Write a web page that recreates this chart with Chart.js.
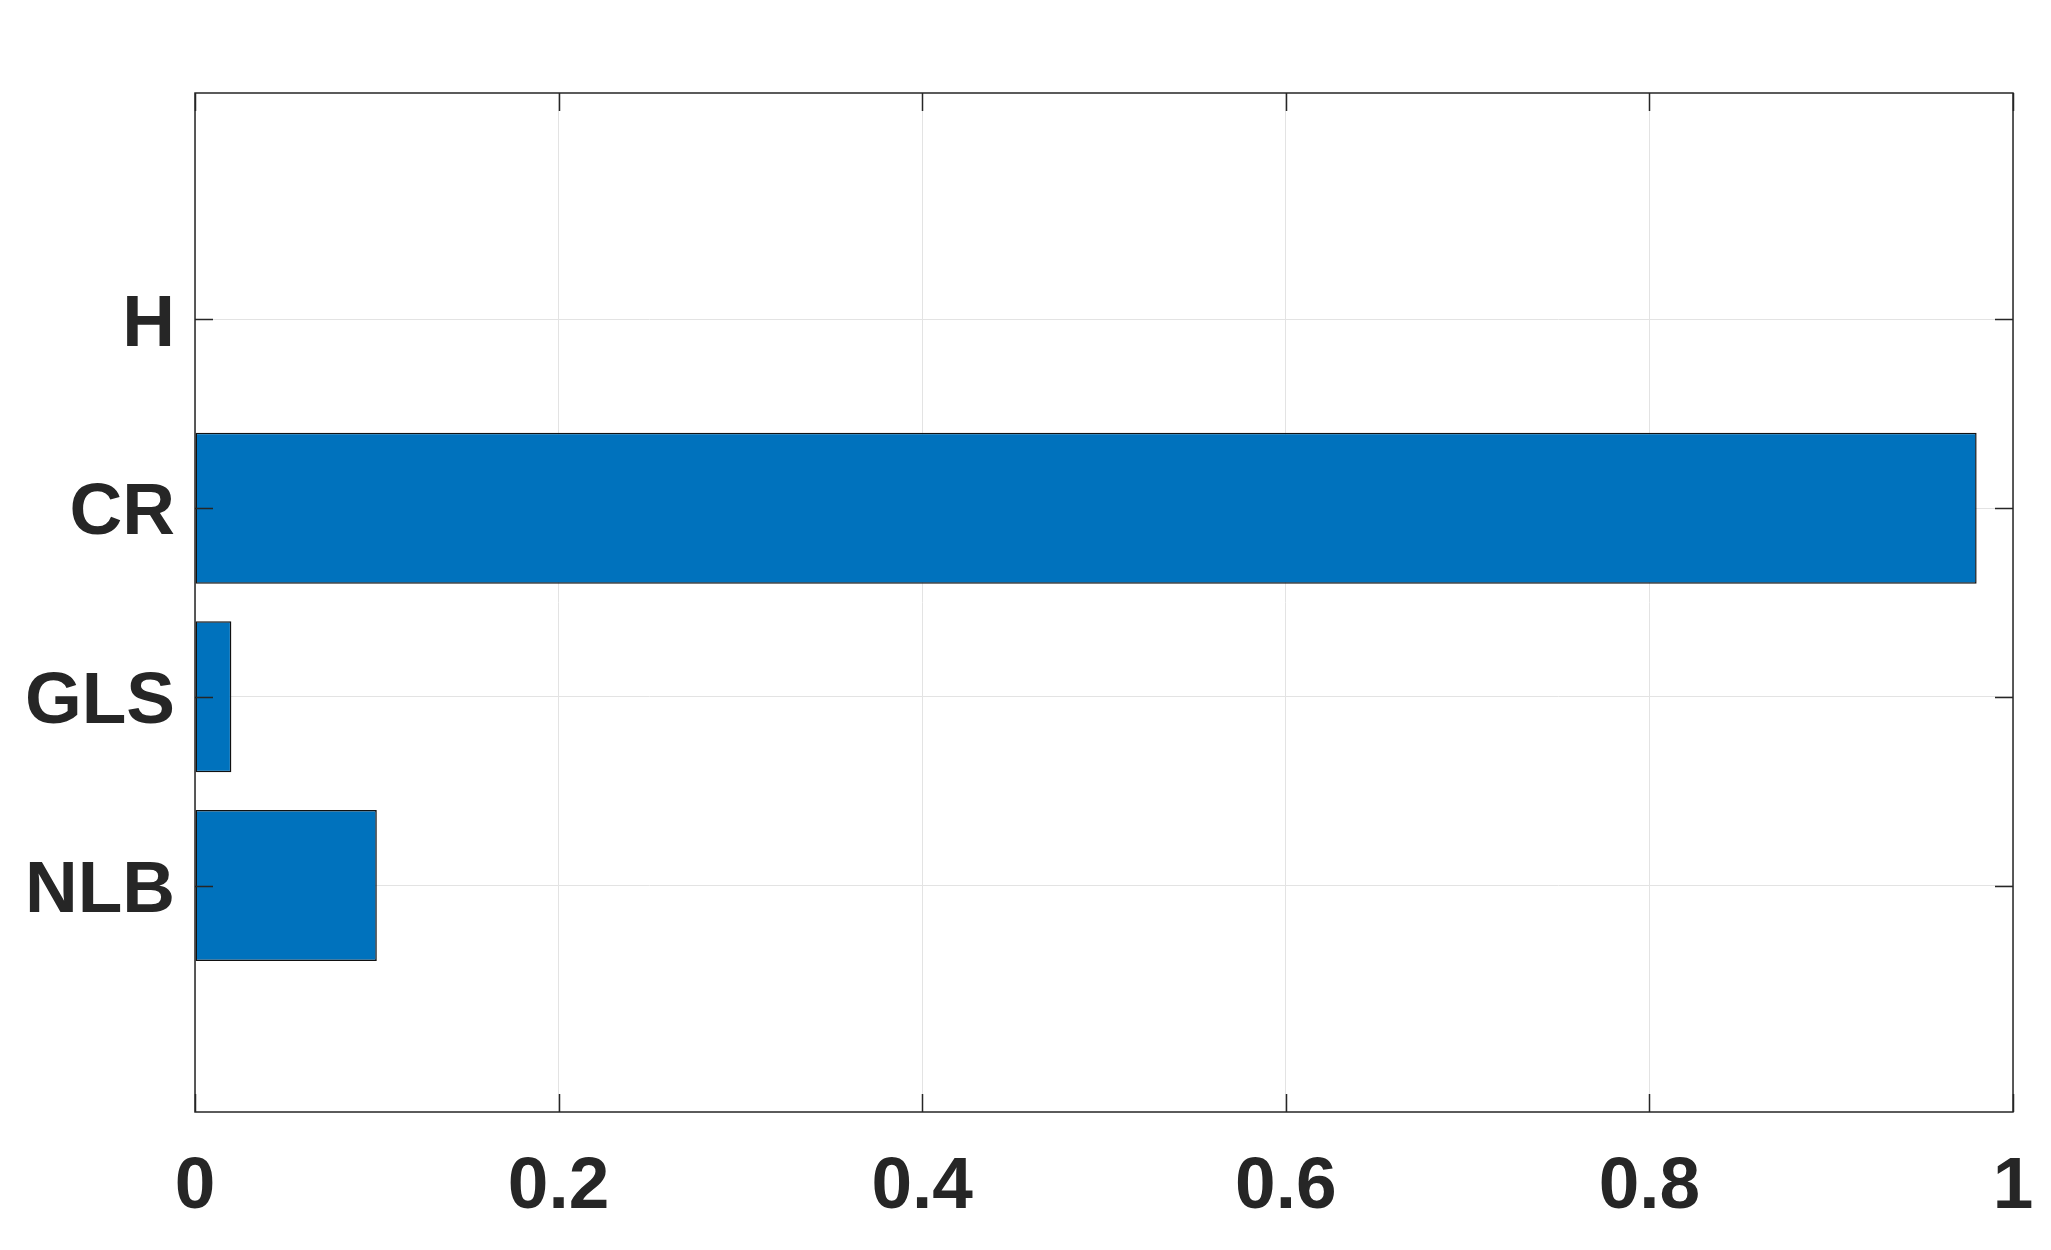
<!DOCTYPE html>
<html>
<head>
<meta charset="utf-8">
<script src="https://cdn.jsdelivr.net/npm/chart.js@4"></script>
<style>
  html, body { margin: 0; padding: 0; background: #fff; }
  #wrap { width: 2051px; height: 1250px; }
</style>
</head>
<body>
<div id="wrap"><canvas id="hbar"></canvas></div>
<script>
var categories = ["NLB", "GLS", "CR", "H"];
var values = [0.1, 0.02, 0.98, 0];
var xTickValues = [0, 0.2, 0.4, 0.6, 0.8, 1];

var inkColor = "#262626";

// matlab style box with ticks pointing inwards
var boxPlugin = {
  id: "box",
  afterDraw: function (chart) {
    var a = chart.chartArea, ctx = chart.ctx;
    var xs = chart.scales.x, ys = chart.scales.y;
    var len = 18;
    ctx.save();
    ctx.strokeStyle = inkColor;
    ctx.lineWidth = 1.5;
    ctx.beginPath();
    xs.ticks.forEach(function (t) {
      var px = Math.round(xs.getPixelForValue(t.value)) + 0.5;
      ctx.moveTo(px, a.bottom); ctx.lineTo(px, a.bottom - len);
      ctx.moveTo(px, a.top); ctx.lineTo(px, a.top + len);
    });
    ys.ticks.forEach(function (t) {
      var py = Math.round(ys.getPixelForValue(t.value)) + 0.5;
      ctx.moveTo(a.left, py); ctx.lineTo(a.left + len, py);
      ctx.moveTo(a.right, py); ctx.lineTo(a.right - len, py);
    });
    ctx.stroke();
    ctx.strokeRect(a.left, a.top, a.right - a.left, a.bottom - a.top);
    ctx.restore();
  }
};

var ctx = document.getElementById("hbar").getContext("2d");

var chart = new Chart(ctx, {
  type: "bar",
  data: {
    datasets: [
      {
        label: "value",
        data: values.map(function (v, i) { return { x: v, y: i + 1 }; }),
        backgroundColor: "#0072BD",
        borderColor: "#111111",
        borderWidth: 1.5,
        borderSkipped: false,
        barPercentage: 0.8,
        categoryPercentage: 1.0,
      },
    ],
  },
  options: {
    indexAxis: "y",
    responsive: true,
    maintainAspectRatio: false,
    animation: false,
    layout: { padding: { top: 93, right: 38, left: 0, bottom: 0 } },
    plugins: { legend: { display: false }, tooltip: { enabled: false } },
    scales: {
      x: {
        type: "linear",
        min: 0,
        max: 1,
        afterBuildTicks: function (s) {
          s.ticks = xTickValues.map(function (v) { return { value: v }; });
        },
        afterFit: function (s) {
          s.height = 1250 - 1112;
          s.paddingLeft = 0;
          s.paddingRight = 0;
        },
        grid: { color: "#e3e3e3", lineWidth: 1, drawTicks: false },
        border: { display: false },
        ticks: {
          padding: 32,
          color: inkColor,
          font: { family: "'Liberation Sans', Arial, sans-serif", size: 73, weight: "bold" },
          callback: function (v) { return String(v); },
        },
      },
      y: {
        type: "linear",
        min: -0.2,
        max: 5.2,
        offset: false,
        afterBuildTicks: function (s) {
          s.ticks = categories.map(function (c, i) { return { value: i + 1 }; });
        },
        afterFit: function (s) { s.width = 195; },
        grid: { color: "#e3e3e3", lineWidth: 1, drawTicks: false, offset: false },
        border: { display: false },
        ticks: {
          padding: 20,
          labelOffset: 6,
          color: inkColor,
          font: { family: "'Liberation Sans', Arial, sans-serif", size: 73, weight: "bold" },
          callback: function (v) { return categories[v - 1] || ""; },
        },
      },
    },
  },
  plugins: [boxPlugin],
});
</script>
</body>
</html>
